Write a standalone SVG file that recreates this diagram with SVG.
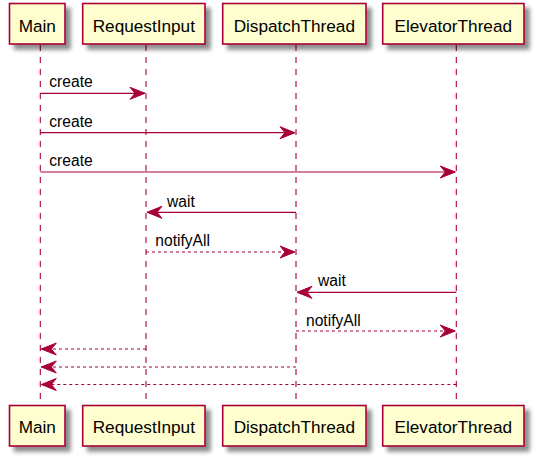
<svg xmlns="http://www.w3.org/2000/svg" width="536" height="459" viewBox="0 0 536 459">
<style>
.box{fill:#FEFECE;stroke:#A80036;stroke-width:1.6}
.pt{font-family:"Liberation Sans",Arial,sans-serif;font-size:17.2px;fill:#000;text-anchor:middle}
.life{stroke:#A80036;stroke-width:1.1;stroke-dasharray:6,6;fill:none}
.msg{stroke:#A80036;stroke-width:1.2;fill:none;marker-end:url(#ah)}
.dash{stroke-dasharray:3,3}
.ml{font-family:"Liberation Sans",Arial,sans-serif;font-size:15.6px;fill:#000}
</style>
<defs>
<filter id="sh" x="-20%" y="-20%" width="150%" height="160%">
<feGaussianBlur in="SourceAlpha" stdDeviation="2.2"/>
<feOffset dx="4.5" dy="4.5" result="b"/>
<feComponentTransfer><feFuncA type="linear" slope="0.45"/></feComponentTransfer>
<feMerge><feMergeNode/><feMergeNode in="SourceGraphic"/></feMerge>
</filter>
<marker id="ah" markerUnits="userSpaceOnUse" markerWidth="16" markerHeight="13" refX="15" refY="6" orient="auto" overflow="visible">
<path d="M0,0 L15,6 L0,12 L5,6 Z" fill="#A80036" stroke="#A80036" stroke-width="1"/>
</marker>
</defs>
<g id="lifelines">
<line class="life" x1="40.3" y1="45" x2="40.3" y2="405"/>
<line class="life" x1="146" y1="45" x2="146" y2="405"/>
<line class="life" x1="296" y1="45" x2="296" y2="405"/>
<line class="life" x1="456.3" y1="45" x2="456.3" y2="405"/>
</g>
<g id="p-main">
<rect class="box" x="9.5" y="3.5" width="55.5" height="40.5" filter="url(#sh)"/>
<text class="pt" x="37.3" y="32">Main</text>
<rect class="box" x="9.5" y="405.5" width="55.5" height="40.5" filter="url(#sh)"/>
<text class="pt" x="37.3" y="432.5">Main</text>
</g>
<g id="p-requestinput">
<rect class="box" x="82.7" y="3.5" width="122.3" height="40.5" filter="url(#sh)"/>
<text class="pt" x="143.8" y="32">RequestInput</text>
<rect class="box" x="82.7" y="405.5" width="122.3" height="40.5" filter="url(#sh)"/>
<text class="pt" x="143.8" y="432.5">RequestInput</text>
</g>
<g id="p-dispatchthread">
<rect class="box" x="222.7" y="3.5" width="143.3" height="40.5" filter="url(#sh)"/>
<text class="pt" x="294.3" y="32">DispatchThread</text>
<rect class="box" x="222.7" y="405.5" width="143.3" height="40.5" filter="url(#sh)"/>
<text class="pt" x="294.3" y="432.5">DispatchThread</text>
</g>
<g id="p-elevatorthread">
<rect class="box" x="382.7" y="3.5" width="141.3" height="40.5" filter="url(#sh)"/>
<text class="pt" x="453.3" y="32">ElevatorThread</text>
<rect class="box" x="382.7" y="405.5" width="141.3" height="40.5" filter="url(#sh)"/>
<text class="pt" x="453.3" y="432.5">ElevatorThread</text>
</g>
<g id="connectors">
<line class="msg" x1="40.3" y1="93.3" x2="145" y2="93.3"/>
<text class="ml" x="49.3" y="87">create</text>
<line class="msg" x1="40.3" y1="132.7" x2="295" y2="132.7"/>
<text class="ml" x="49.3" y="126.7">create</text>
<line class="msg" x1="40.3" y1="172" x2="455.3" y2="172"/>
<text class="ml" x="49.3" y="166">create</text>
<line class="msg" x1="296" y1="212.3" x2="147" y2="212.3"/>
<text class="ml" x="167" y="206.5">wait</text>
<line class="msg dash" x1="146" y1="252" x2="295" y2="252"/>
<text class="ml" x="155.3" y="246">notifyAll</text>
<line class="msg" x1="456.3" y1="292.3" x2="297" y2="292.3"/>
<text class="ml" x="318" y="286.3">wait</text>
<line class="msg dash" x1="296" y1="331" x2="455.3" y2="331"/>
<text class="ml" x="306" y="325.5">notifyAll</text>
<line class="msg dash" x1="146" y1="349" x2="41.3" y2="349"/>
<line class="msg dash" x1="296" y1="367" x2="41.3" y2="367"/>
<line class="msg dash" x1="456.3" y1="384.5" x2="41.3" y2="384.5"/>
</g>
</svg>
